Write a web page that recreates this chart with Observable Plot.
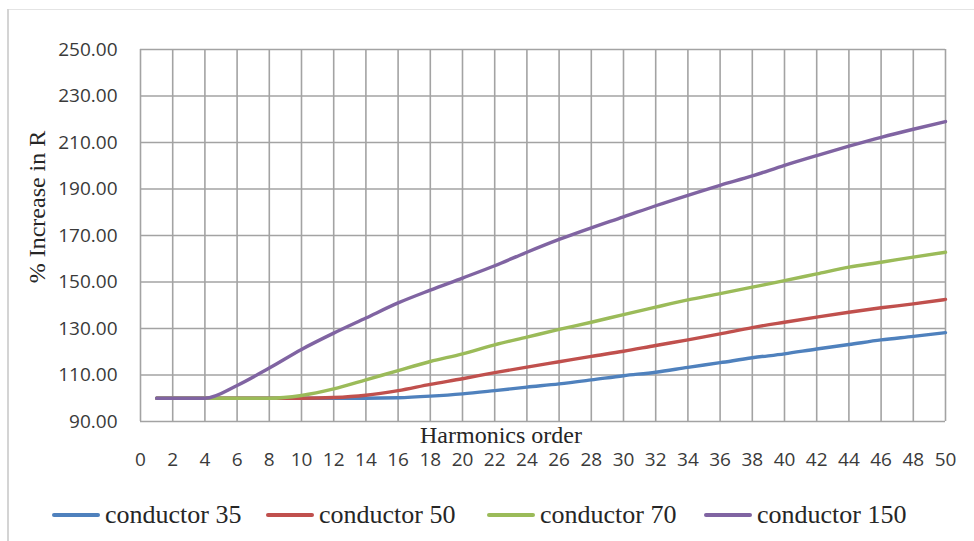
<!DOCTYPE html>
<html>
<head>
<meta charset="utf-8">
<script src="https://cdn.jsdelivr.net/npm/d3@7"></script>
<script src="https://cdn.jsdelivr.net/npm/@observablehq/plot@0.6"></script>
<style>
  html, body { margin: 0; padding: 0; background: #fff; }
  #wrap { position: relative; width: 974px; height: 541px; overflow: hidden; }
  #frameTop { position: absolute; left: 7px; top: 9px; width: 967px; height: 1px; background: #e4e4e4; }
  #frameLeft { position: absolute; left: 7px; top: 9px; width: 2px; height: 532px; background: #d4d4d4; }
  #chart { position: absolute; left: 0; top: 0; }
  .lbl { position: absolute; font-family: "Liberation Serif", "DejaVu Serif", serif; color: #262626; white-space: nowrap; line-height: 1; }
  #ylab { left: 37px; top: 207px; font-size: 24px; transform: translate(-50%, -50%) rotate(-90deg); }
  #xlab { left: 501px; top: 435px; font-size: 24px; transform: translate(-50%, -50%); }
  #legend { position: absolute; left: 0; top: 498px; width: 974px; height: 34px; }
  .item { position: absolute; top: 0; height: 34px; display: flex; align-items: center; font-family: "Liberation Serif", serif; font-size: 26px; line-height: 1; color: #262626; white-space: nowrap; }
  .swatch { width: 48px; height: 4px; border-radius: 2px; margin-right: 5px; }
</style>
</head>
<body>
<div id="wrap">
  <div id="frameTop"></div>
  <div id="frameLeft"></div>
  <div id="chart"></div>
  <div class="lbl" id="ylab">% Increase in R</div>
  <div class="lbl" id="xlab">Harmonics order</div>
  <div id="legend"></div>
</div>
<script>
// ---- data ----
const harmonics = [1, 2, 4, 6, 8, 10, 12, 14, 16, 18, 20, 22, 24, 26, 28, 30, 32, 34, 36, 38, 40, 42, 44, 46, 48, 50];
const conductor35  = [100, 100, 100, 100, 100, 100, 100, 100, 100.2, 100.9, 101.9, 103.3, 104.8, 106.2, 107.9, 109.7, 111.2, 113.3, 115.3, 117.4, 119.1, 121.2, 123.1, 125.1, 126.6, 128.2];
const conductor50  = [100, 100, 100, 100, 100, 100, 100.3, 101.3, 103.3, 106, 108.4, 111, 113.4, 115.7, 118, 120.2, 122.7, 125.1, 127.7, 130.4, 132.7, 134.9, 137, 138.9, 140.6, 142.5];
const conductor70  = [100, 100, 100, 100, 100, 101.2, 104, 107.9, 111.9, 115.8, 119.1, 123, 126.3, 129.6, 132.7, 136, 139.2, 142.3, 145, 147.8, 150.6, 153.5, 156.4, 158.5, 160.7, 162.8];
const conductor150 = [100, 100, 100, 105.5, 113, 121, 128, 134.5, 141, 146.5, 151.7, 157, 162.8, 168.3, 173.3, 178, 182.8, 187.3, 191.6, 195.6, 200.2, 204.4, 208.4, 212.2, 215.7, 219];
const seriesNames = ["conductor 35", "conductor 50", "conductor 70", "conductor 150"];
const seriesColors = ["#4F81BD", "#C0504D", "#9BBB59", "#8064A2"];
const xTicks = [0, 2, 4, 6, 8, 10, 12, 14, 16, 18, 20, 22, 24, 26, 28, 30, 32, 34, 36, 38, 40, 42, 44, 46, 48, 50];
const yTicks = [90, 110, 130, 150, 170, 190, 210, 230, 250];

const seriesValues = [conductor35, conductor50, conductor70, conductor150];
const rows = [];
seriesNames.forEach((name, si) => {
  harmonics.forEach((h, i) => rows.push({series: name, h, v: seriesValues[si][i]}));
});

const chart = Plot.plot({
  width: 974,
  height: 490,
  marginLeft: 140,
  marginRight: 29,
  marginTop: 49,
  marginBottom: 69,
  style: {fontFamily: "'Open Sans', sans-serif", fontSize: "19px", color: "#3a3a3a", background: "transparent"},
  x: {domain: [0, 50], ticks: xTicks, tickSize: 0, tickPadding: 31, label: null},
  y: {domain: [90, 250], ticks: yTicks, tickSize: 0, tickPadding: 23, label: null, tickFormat: d3.format(".2f")},
  color: {domain: seriesNames, range: seriesColors},
  marks: [
    Plot.gridX(xTicks, {stroke: "#a3a3a3", strokeOpacity: 1, strokeWidth: 1.6}),
    Plot.gridY(yTicks, {stroke: "#a3a3a3", strokeOpacity: 1, strokeWidth: 1.6}),
    Plot.line(rows, {x: "h", y: "v", z: "series", stroke: "series", strokeWidth: 3.4, curve: "monotone-x"})
  ]
});
document.getElementById("chart").appendChild(chart);

// legend
const legendX = [52, 266, 487, 704];
const legend = document.getElementById("legend");
seriesNames.forEach((name, i) => {
  const it = document.createElement("div");
  it.className = "item";
  it.style.left = legendX[i] + "px";
  const sw = document.createElement("div");
  sw.className = "swatch";
  sw.style.background = seriesColors[i];
  const tx = document.createElement("span");
  tx.textContent = name;
  it.appendChild(sw);
  it.appendChild(tx);
  legend.appendChild(it);
});
</script>
</body>
</html>
